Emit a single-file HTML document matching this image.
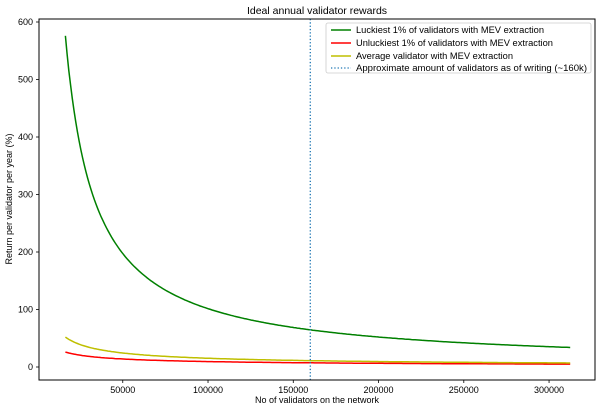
<!DOCTYPE html>
<html><head><meta charset="utf-8"><style>
body{margin:0;background:#fff}
svg{font-family:"Liberation Sans","DejaVu Sans",sans-serif;font-size:9px}
</style></head><body>
<svg id="s" width="600" height="412" viewBox="0 0 600 412">
<rect width="600" height="412" fill="#fff"/>
<text x="317" y="14" text-anchor="middle" font-size="10.5">Ideal annual validator rewards</text>
<g id="plot"></g>
<line x1="310.3" y1="19" x2="310.3" y2="380" stroke="#1f77b4" stroke-width="1.3" stroke-dasharray="1.3,2"/>
<rect x="39" y="19" width="556" height="361" fill="none" stroke="#000" stroke-width="1"/>
<g id="ticks" stroke="#000" stroke-width="0.8"></g>
<g id="labels"></g>
<text x="317" y="403" text-anchor="middle">No of validators on the network</text>
<text transform="translate(12,199) rotate(-90)" text-anchor="middle">Return per validator per year (%)</text>
<rect x="326" y="23" width="265" height="50" rx="2" fill="#fff" fill-opacity="0.85" stroke="#ccc" stroke-width="0.8"/>
<line x1="331" y1="30" x2="351" y2="30" stroke="green" stroke-width="1.5"/>
<text x="356" y="33" textLength="188" lengthAdjust="spacingAndGlyphs">Luckiest 1% of validators with MEV extraction</text>
<line x1="331" y1="43" x2="351" y2="43" stroke="red" stroke-width="1.5"/>
<text x="356" y="46" textLength="197" lengthAdjust="spacingAndGlyphs">Unluckiest 1% of validators with MEV extraction</text>
<line x1="331" y1="56" x2="351" y2="56" stroke="#bfbf00" stroke-width="1.5"/>
<text x="356" y="59" textLength="157" lengthAdjust="spacingAndGlyphs">Average validator with MEV extraction</text>
<line x1="331" y1="68" x2="351" y2="68" stroke="#1f77b4" stroke-width="1.3" stroke-dasharray="1.3,2"/>
<text x="356" y="71" textLength="231" lengthAdjust="spacingAndGlyphs">Approximate amount of validators as of writing (~160k)</text>
</svg>
<script>
var NS="http://www.w3.org/2000/svg";
function X(n){return 37.5+0.0017052*n}
function Y(v){return 367-0.575*v}
function mk(t,a,p){var e=document.createElementNS(NS,t);for(var k in a)e.setAttribute(k,a[k]);(p||document.getElementById('plot')).appendChild(e);return e}
function series(a,p,col){var d="";for(var n=16384;n<=312500;n+=1000){d+=(d?"L":"M")+X(n).toFixed(1)+","+Y(a*Math.pow(16384/n,p)).toFixed(1)}
mk("path",{d:d,fill:"none",stroke:col,"stroke-width":1.5})}
series(576,0.96,"green");
series(26,0.56,"red");
series(52,0.68,"#bfbf00");
var T=document.getElementById('ticks'),L=document.getElementById('labels');
[0,100,200,300,400,500,600].forEach(function(v){var y=Y(v);mk("line",{x1:36,y1:y,x2:39,y2:y},T);var t=mk("text",{x:33,y:y+3,"text-anchor":"end"},L);t.textContent=v;});
[50000,100000,150000,200000,250000,300000].forEach(function(n){var x=X(n);mk("line",{x1:x,y1:380,x2:x,y2:383},T);var t=mk("text",{x:x,y:393,"text-anchor":"middle"},L);t.textContent=n;});
</script>
</body></html>
